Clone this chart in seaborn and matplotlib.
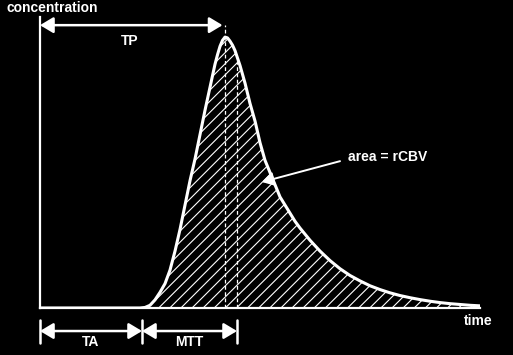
import seaborn as sns
import matplotlib.pyplot as plt
import pandas as pd
import numpy as np

# curve (time in arbitrary units, concentration normalised to peak)
time = [0, 10.0, 10.5, 11.0, 11.5, 12.0, 12.5, 13.0, 13.5, 14.0, 14.5, 15.0, 15.5, 16.0,
        16.5, 17.0, 17.5, 17.75, 18.0, 18.25, 18.5, 18.75, 19.0, 19.25, 19.5, 20.0, 20.5,
        21.0, 21.5, 22.0, 22.5, 23.0, 23.5, 24.0, 24.5, 25.0, 25.5, 26.0, 27, 28, 29, 30,
        31, 32, 33, 34, 35, 36, 37, 38, 39, 40, 41, 42, 43, 44]
conc = [0, 0, 0.002, 0.01, 0.03, 0.058, 0.09, 0.14, 0.21, 0.29, 0.38, 0.47, 0.55, 0.64,
        0.73, 0.815, 0.9, 0.935, 0.966, 0.988, 1.0, 0.997, 0.985, 0.97, 0.95, 0.895, 0.83,
        0.755, 0.69, 0.61, 0.545, 0.50, 0.455, 0.41, 0.38, 0.35, 0.32, 0.295, 0.25, 0.21,
        0.175, 0.145, 0.12, 0.10, 0.082, 0.068, 0.056, 0.046, 0.038, 0.031, 0.025, 0.02,
        0.016, 0.013, 0.01, 0.008]

TA_END = 10.2      # arrival time
TP = 18.5          # time to peak
MTT_END = 19.7     # end of mean transit time bracket
MTT_HEIGHT = 0.91  # curve height at MTT_END

df = pd.DataFrame({'time': time, 'conc': conc})

sns.set_style('dark')
plt.rcParams['font.family'] = ['Liberation Sans', 'DejaVu Sans']
plt.rcParams['hatch.color'] = 'white'
plt.rcParams['hatch.linewidth'] = 0.8

fig = plt.figure(figsize=(5.13, 3.55), dpi=100, facecolor='black')
ax = fig.add_axes([0.078, 0.1324, 0.8577, 0.8196])
ax.set_facecolor('black')

# hatched area under the curve
ax.fill_between(df['time'], df['conc'], 0, facecolor='black', edgecolor='white',
                hatch='///', linewidth=0)
sns.lineplot(data=df, x='time', y='conc', ax=ax, color='white', linewidth=2.2)

ax.set_xlim(0, 44)
ax.set_ylim(0, 1.074)
ax.set_xticks([])
ax.set_yticks([])
ax.set_xlabel('')
ax.set_ylabel('')
ax.grid(False)
for s in ['top', 'right']:
    ax.spines[s].set_visible(False)
for s in ['left', 'bottom']:
    ax.spines[s].set_visible(True)
    ax.spines[s].set_color('white')
    ax.spines[s].set_linewidth(1.6)

# dashed guide lines
ax.plot([TP, TP], [0, 1.044], color='white', lw=0.9, ls=(0, (3, 2)), clip_on=False)
ax.plot([MTT_END, MTT_END], [0, MTT_HEIGHT], color='white', lw=0.9, ls=(0, (3, 2)))

arrow = dict(arrowstyle='<|-|>,head_length=0.5,head_width=0.3', color='white', lw=1.8,
             mutation_scale=16, shrinkA=0, shrinkB=0)

# TP arrow
ax.annotate('', xy=(TP - 0.25, 1.044), xytext=(0, 1.044), arrowprops=arrow,
            annotation_clip=False)
ax.text(9.0, 0.985, 'TP', color='white', fontsize=10, fontweight='bold',
        ha='center', va='center')

# TA and MTT arrows below the axis
ya = -0.085
ax.annotate('', xy=(TA_END, ya), xytext=(0, ya), arrowprops=arrow, annotation_clip=False)
ax.annotate('', xy=(MTT_END, ya), xytext=(TA_END, ya), arrowprops=arrow,
            annotation_clip=False)
for xb in [0, TA_END, MTT_END]:
    ax.plot([xb, xb], [-0.044, -0.129], color='white', lw=1.8, clip_on=False)
ax.text(TA_END / 2, -0.125, 'TA', color='white', fontsize=10, fontweight='bold',
        ha='center', va='center')
ax.text((TA_END + MTT_END) / 2, -0.125, 'MTT', color='white', fontsize=10,
        fontweight='bold', ha='center', va='center')

# axis labels
ax.text(1.2, 1.107, 'concentration', color='white', fontsize=10, fontweight='bold',
        ha='center', va='center', clip_on=False)
ax.text(43.8, -0.048, 'time', color='white', fontsize=10, fontweight='bold',
        ha='center', va='center', clip_on=False)

# area label
ax.annotate('', xy=(22.2, 0.465), xytext=(30.0, 0.542),
            arrowprops=dict(arrowstyle='-|>,head_length=0.5,head_width=0.3', color='white',
                            lw=1.4, mutation_scale=14, shrinkA=0, shrinkB=0))
ax.text(30.8, 0.557, 'area = rCBV', color='white', fontsize=10, fontweight='bold',
        ha='left', va='center')

fig.savefig('out.png', dpi=100, facecolor='black')
